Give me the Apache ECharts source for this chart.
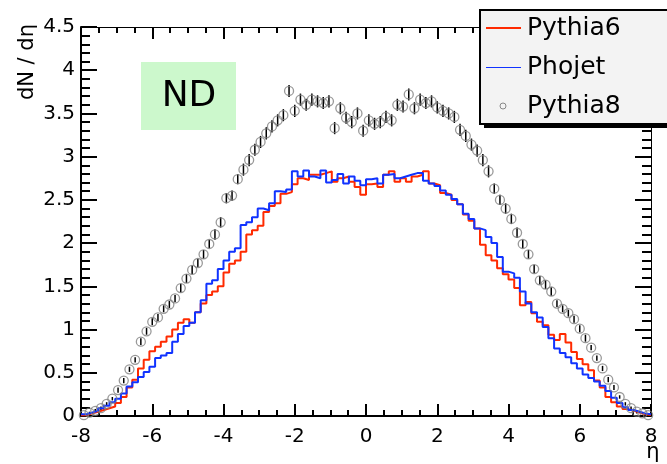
<!DOCTYPE html>
<html>
<head>
<meta charset="utf-8">
<script src="https://cdn.jsdelivr.net/npm/echarts@6/dist/echarts.min.js"></script>
<style>
  html, body { margin: 0; padding: 0; background: #fff; }
  #main { width: 667px; height: 464px; }
</style>
</head>
<body>
<div id="main"></div>
<script>
// histogram binning: 100 bins from -8 to 8
var binLo = -8;
var binW = 0.16;

var pythia6 = [
  0.01,0.03,0.05,0.07,0.09,0.11,0.15,0.22,0.33,0.42,
  0.55,0.65,0.75,0.80,0.86,0.92,1.00,1.08,1.12,1.08,
  1.20,1.30,1.40,1.44,1.50,1.66,1.76,1.80,1.90,2.10,
  2.15,2.20,2.36,2.43,2.46,2.57,2.59,2.68,2.75,2.73,
  2.79,2.79,2.81,2.83,2.71,2.75,2.77,2.71,2.65,2.56,
  2.68,2.69,2.65,2.79,2.83,2.71,2.75,2.71,2.77,2.79,
  2.83,2.69,2.67,2.58,2.56,2.50,2.45,2.33,2.26,2.17,
  1.98,1.86,1.80,1.71,1.64,1.58,1.48,1.28,1.32,1.19,
  1.09,1.05,0.94,0.88,0.95,0.85,0.74,0.66,0.60,0.53,
  0.41,0.33,0.22,0.16,0.11,0.08,0.06,0.04,0.02,0.01
];

var phojet = [
  0.02,0.04,0.06,0.09,0.12,0.16,0.20,0.26,0.34,0.39,
  0.45,0.51,0.57,0.67,0.70,0.73,0.86,0.95,1.04,1.08,
  1.20,1.34,1.53,1.57,1.70,1.80,1.90,1.94,2.21,2.24,
  2.30,2.40,2.38,2.46,2.60,2.59,2.62,2.83,2.77,2.84,
  2.77,2.75,2.84,2.70,2.73,2.80,2.69,2.77,2.72,2.67,
  2.74,2.75,2.69,2.79,2.80,2.75,2.77,2.79,2.81,2.81,
  2.72,2.69,2.66,2.61,2.56,2.51,2.45,2.34,2.28,2.17,
  2.15,2.07,2.00,1.84,1.67,1.65,1.60,1.44,1.30,1.20,
  1.14,1.03,0.90,0.78,0.73,0.68,0.61,0.55,0.48,0.44,
  0.40,0.35,0.29,0.21,0.15,0.10,0.07,0.05,0.03,0.02
];

var pythia8 = [
  0.01,0.04,0.06,0.09,0.14,0.20,0.30,0.41,0.54,0.65,
  0.86,0.98,1.09,1.14,1.24,1.29,1.36,1.48,1.59,1.69,
  1.77,1.87,1.99,2.10,2.24,2.52,2.55,2.74,2.85,2.96,
  3.08,3.17,3.27,3.35,3.42,3.48,3.76,3.53,3.66,3.60,
  3.66,3.64,3.62,3.64,3.33,3.56,3.45,3.40,3.50,3.30,
  3.42,3.38,3.40,3.46,3.42,3.60,3.58,3.72,3.56,3.66,
  3.62,3.64,3.57,3.53,3.50,3.46,3.31,3.24,3.14,3.07,
  2.96,2.83,2.63,2.50,2.40,2.28,2.12,1.99,1.87,1.70,
  1.57,1.52,1.44,1.30,1.24,1.19,1.12,1.01,0.90,0.79,
  0.67,0.55,0.42,0.33,0.22,0.14,0.09,0.05,0.03,0.01
];

var pythia8Err = [
  0.01,0.01,0.02,0.02,0.02,0.02,0.03,0.03,0.03,0.03,
  0.04,0.04,0.04,0.04,0.04,0.04,0.04,0.05,0.05,0.05,
  0.05,0.05,0.05,0.06,0.06,0.06,0.06,0.06,0.07,0.07,
  0.07,0.07,0.07,0.07,0.07,0.07,0.07,0.07,0.07,0.07,
  0.07,0.07,0.07,0.07,0.07,0.07,0.07,0.07,0.07,0.07,
  0.07,0.07,0.07,0.07,0.07,0.07,0.07,0.07,0.07,0.07,
  0.07,0.07,0.07,0.07,0.07,0.07,0.07,0.07,0.07,0.07,
  0.07,0.07,0.06,0.06,0.06,0.06,0.06,0.05,0.05,0.05,
  0.05,0.05,0.05,0.04,0.04,0.04,0.04,0.04,0.04,0.03,
  0.03,0.03,0.03,0.03,0.02,0.02,0.02,0.02,0.01,0.01
];

var legendNames = ['Pythia6', 'Phojet', 'Pythia8'];
var labelFont = 'DejaVu Sans';

// step points at bin low edges, closing at the last high edge
function histSteps(vals){
  var pts = [];
  for(var i=0;i<vals.length;i++){
    pts.push([+(binLo + i*binW).toFixed(2), vals[i]]);
  }
  pts.push([+(binLo + vals.length*binW).toFixed(2), vals[vals.length-1]]);
  return pts;
}
function binCenters(vals, errs){
  var pts = [];
  for(var i=0;i<vals.length;i++){
    var p = [+(binLo + (i+0.5)*binW).toFixed(2), vals[i]];
    if(errs) p.push(errs[i]);
    pts.push(p);
  }
  return pts;
}

var option = {
  animation: false,
  backgroundColor: '#fff',
  grid: {left:81, right:16, top:27, bottom:48},
  xAxis: [
    {
      type:'value', min:-8, max:8, interval:2, position:'bottom',
      axisLine: {show:true, onZero:false, lineStyle:{color:'#000', width:2}},
      splitLine: {show:false},
      axisTick: {show:true, inside:true, length:12, lineStyle:{color:'#000', width:2}},
      minorTick: {show:true, splitNumber:4, length:6, lineStyle:{color:'#000', width:2}},
      axisLabel: {fontFamily:labelFont, fontSize:20, color:'#000', margin:11}
    },
    {
      type:'value', min:-8, max:8, interval:2, position:'top',
      axisLine: {show:true, onZero:false, lineStyle:{color:'#000', width:1}},
      splitLine: {show:false},
      axisTick: {show:true, inside:true, length:12, lineStyle:{color:'#000', width:2}},
      minorTick: {show:true, splitNumber:4, length:6, lineStyle:{color:'#000', width:2}},
      axisLabel: {show:false}
    }
  ],
  yAxis: [
    {
      type:'value', min:0, max:4.5, interval:0.5, position:'left',
      axisLine: {show:true, onZero:false, lineStyle:{color:'#000', width:2}},
      splitLine: {show:false},
      axisTick: {show:true, inside:true, length:16, lineStyle:{color:'#000', width:2}},
      minorTick: {show:true, splitNumber:5, length:9, lineStyle:{color:'#000', width:2}},
      axisLabel: {fontFamily:labelFont, fontSize:20, color:'#000', margin:6}
    },
    {
      type:'value', min:0, max:4.5, interval:0.5, position:'right',
      axisLine: {show:true, onZero:false, lineStyle:{color:'#000', width:1}},
      splitLine: {show:false},
      axisTick: {show:true, inside:true, length:16, lineStyle:{color:'#000', width:2}},
      minorTick: {show:true, splitNumber:5, length:9, lineStyle:{color:'#000', width:2}},
      axisLabel: {show:false}
    }
  ],
  series: [
    {
      name: legendNames[0], type:'line', step:'end', symbol:'none',
      data: histSteps(pythia6),
      lineStyle: {color:'#ff2a00', width:2}
    },
    {
      name: legendNames[1], type:'line', step:'end', symbol:'none',
      data: histSteps(phojet),
      lineStyle: {color:'#1033ff', width:2}
    },
    {
      name: legendNames[2] + ' err', type:'custom',
      data: binCenters(pythia8, pythia8Err),
      renderItem: function(params, api){
        var x = api.value(0), v = api.value(1), e = api.value(2);
        var lo = api.coord([x, v - e]);
        var hi = api.coord([x, v + e]);
        return {
          type:'line',
          shape:{x1:lo[0], y1:lo[1], x2:hi[0], y2:hi[1]},
          style:{stroke:'#000', lineWidth:1.5}
        };
      },
      z: 3
    },
    {
      name: legendNames[2], type:'scatter', symbol:'circle', symbolSize:9,
      data: binCenters(pythia8),
      itemStyle: {color:'rgba(0,0,0,0)', borderColor:'#808080', borderWidth:1.3},
      z: 4
    }
  ],
  graphic: [
    // y title
    {
      type:'text', x:28, y:24, rotation:Math.PI/2,
      style:{text:'dN / dη', fontFamily:labelFont, fontSize:21, fill:'#000', textAlign:'right', textVerticalAlign:'middle'}
    },
    // x title
    {
      type:'text', x:653, y:453,
      style:{text:'η', fontFamily:labelFont, fontSize:21, fill:'#000', textAlign:'center', textVerticalAlign:'middle'}
    },
    // ND label
    {
      type:'rect', shape:{x:141, y:62, width:95, height:68},
      style:{fill:'#ccf8cc'}
    },
    {
      type:'text', x:189, y:97,
      style:{text:'ND', fontFamily:labelFont, fontSize:36, fill:'#000', textAlign:'center', textVerticalAlign:'middle'}
    },
    // legend box with shadow
    {
      type:'rect', shape:{x:484, y:14, width:190, height:114},
      style:{fill:'#000'}, z:10
    },
    {
      type:'rect', shape:{x:480, y:10, width:192, height:114},
      style:{fill:'#f3f3f3', stroke:'#000', lineWidth:2}, z:11
    },
    {
      type:'line', shape:{x1:486, y1:28, x2:521, y2:28},
      style:{stroke:'#ff2a00', lineWidth:2}, z:12
    },
    {
      type:'line', shape:{x1:486, y1:67.5, x2:521, y2:67.5},
      style:{stroke:'#1033ff', lineWidth:1}, z:12
    },
    {
      type:'circle', shape:{cx:503, cy:106, r:3},
      style:{fill:'rgba(0,0,0,0)', stroke:'#888', lineWidth:1}, z:12
    },
    {
      type:'text', x:527, y:28,
      style:{text:legendNames[0], fontFamily:labelFont, fontSize:25, fill:'#000', textVerticalAlign:'middle'}, z:12
    },
    {
      type:'text', x:527, y:67,
      style:{text:legendNames[1], fontFamily:labelFont, fontSize:25, fill:'#000', textVerticalAlign:'middle'}, z:12
    },
    {
      type:'text', x:527, y:106,
      style:{text:legendNames[2], fontFamily:labelFont, fontSize:25, fill:'#000', textVerticalAlign:'middle'}, z:12
    }
  ]
};

var myChart = echarts.init(document.getElementById('main'));
myChart.setOption(option);
</script>
</body>
</html>
